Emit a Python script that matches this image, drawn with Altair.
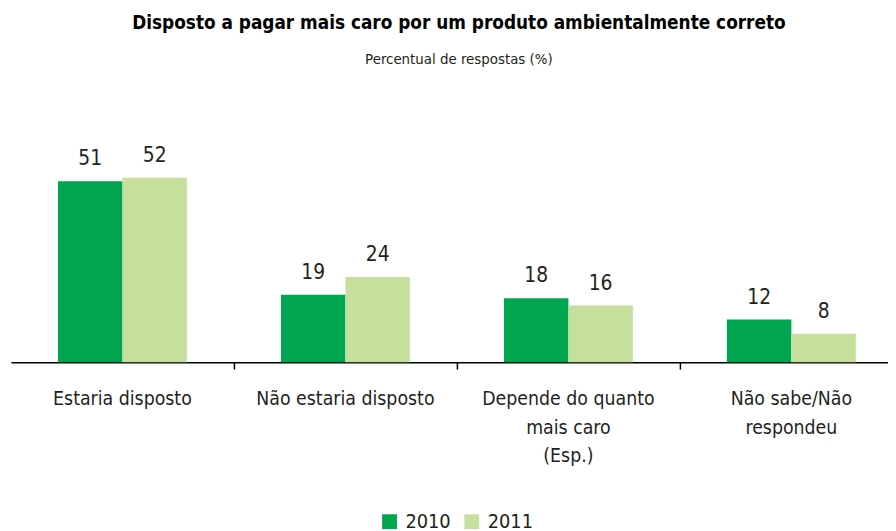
import altair as alt
import pandas as pd

categories = ["Estaria disposto", "Não estaria disposto", "Depende do quanto|mais caro|(Esp.)", "Não sabe/Não|respondeu"]
years = ["2010", "2011"]
values_2010 = [51, 19, 18, 12]
values_2011 = [52, 24, 16, 8]

rows = []
for c, v in zip(categories, values_2010):
    rows.append({"cat": c, "ano": "2010", "valor": v})
for c, v in zip(categories, values_2011):
    rows.append({"cat": c, "ano": "2011", "valor": v})
df = pd.DataFrame(rows)

FONT = "DejaVu Sans Condensed, sans-serif"
DARK = "#00A550"
LIGHT = "#C5E09C"
TXT = "#231F20"

x = alt.X("cat:N", sort=categories, title=None,
          scale=alt.Scale(range=[1, 901], paddingInner=0, paddingOuter=0),
          axis=alt.Axis(labelAngle=0, bandPosition=0, labelExpr="split(datum.label, '|')",
                        labelFontSize=19.5, labelFont=FONT, labelColor=TXT, labelLineHeight=28.5,
                        labelPadding=21, tickSize=7, tickWidth=1.5, labelLimit=300,
                        tickColor={"condition": {"test": "datum.value == 'Estaria disposto'", "value": "transparent"}, "value": "#000"},
                        domainColor="#000", domainWidth=1.5, labelBaseline="top"))
xo = alt.XOffset("ano:N", sort=years,
                 scale=alt.Scale(paddingInner=0, paddingOuter=0.73))
y = alt.Y("valor:Q", scale=alt.Scale(domain=[0, 73.5]), axis=None)

bars = alt.Chart(df).mark_bar().encode(
    x=x, xOffset=xo, y=y,
    color=alt.Color("ano:N", sort=years, scale=alt.Scale(domain=years, range=[DARK, LIGHT]),
                    legend=alt.Legend(title=None, orient="none", legendX=373, legendY=414,
                                      direction="horizontal", symbolType="square", symbolSize=225,
                                      symbolStrokeWidth=0, symbolOpacity=1,
                                      labelFontSize=20, labelFont=FONT, labelColor=TXT,
                                      labelOffset=6, columnPadding=11, padding=0))
)
labels = alt.Chart(df).mark_text(dy=-22, fontSize=21, font=FONT, color=TXT).encode(
    x=x, xOffset=xo, y=y, text=alt.Text("valor:Q")
)

chart = alt.layer(bars, labels).properties(
    width=886, height=263,
    title=alt.Title("Disposto a pagar mais caro por um produto ambientalmente correto",
                    subtitle="Percentual de respostas (%)",
                    font=FONT, fontSize=19, fontWeight="bold", color="#000",
                    subtitleFont=FONT, subtitleFontSize=15, subtitleColor=TXT,
                    subtitlePadding=19, offset=35, anchor="middle", dx=10),
    autosize=alt.AutoSizeParams(type="none"),
    padding={"left": 2, "top": 92, "right": 0, "bottom": 170},
).configure_view(strokeWidth=0)

chart.save("out.html", embed_options={"renderer": "svg", "actions": False})
